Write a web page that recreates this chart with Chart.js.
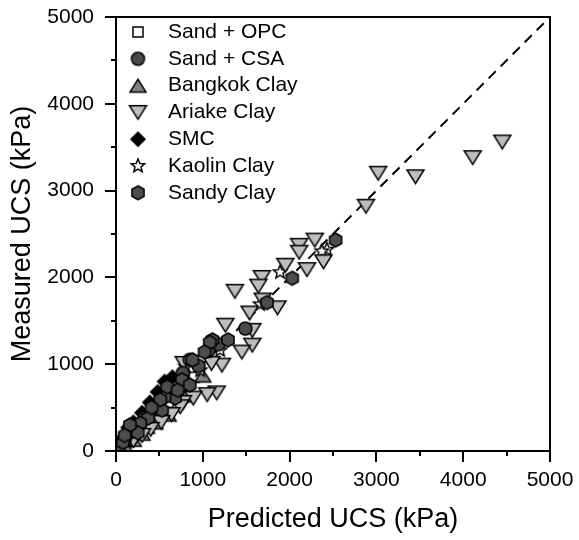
<!DOCTYPE html>
<html>
<head>
<meta charset="utf-8">
<script src="https://cdn.jsdelivr.net/npm/chart.js@4"></script>
<style>
  html, body { margin: 0; padding: 0; background: #fff; }
  #wrap { width: 579px; height: 540px; }
</style>
</head>
<body>
<div id="wrap"><canvas id="ucsChart" width="579" height="540"></canvas></div>
<script>
// Measured vs predicted UCS (kPa)
const sandOPC = [[50, 40], [120, 100], [250, 210], [400, 350], [600, 560], [900, 850]];
const sandCSA = [[1490, 1410], [850, 1050], [950, 980], [1180, 1230], [640, 690], [470, 520],
  [330, 380], [200, 250], [100, 120], [30, 40], [1060, 1150], [770, 900]];
const bangkokClay = [[600, 420], [450, 330], [300, 200], [200, 130], [100, 60], [800, 640],
  [350, 280], [1000, 870]];
const ariakeClay = [[4450, 3560], [4110, 3380], [3450, 3160], [3020, 3200], [2880, 2820],
  [2290, 2430], [2110, 2370], [2110, 2290], [2390, 2180], [2200, 2090], [1950, 2140],
  [1680, 2000], [1640, 1900], [1370, 1840], [1690, 1740], [1860, 1650], [1540, 1590],
  [1260, 1450], [1570, 1390], [1570, 1220], [1450, 1140], [1220, 990], [1100, 1010],
  [1160, 670], [1050, 650], [890, 610], [770, 560], [740, 510], [640, 420], [780, 1010],
  [520, 330], [400, 250], [300, 180], [200, 120]];
const smc = [[560, 800], [390, 560], [200, 330], [140, 270], [480, 680], [300, 440],
  [80, 150], [650, 850]];
const kaolinClay = [[2430, 2320], [2370, 2300], [1890, 2060], [1200, 1160], [970, 930],
  [800, 970], [1660, 1690], [700, 680], [500, 460], [300, 260], [150, 120]];
const sandyClay = [[2530, 2430], [2030, 1990], [1740, 1710], [1110, 1280], [1290, 1280],
  [1080, 1250], [1020, 1140], [880, 1050], [760, 820], [850, 760], [680, 610], [560, 620],
  [430, 510], [530, 470], [370, 380], [280, 320], [160, 210], [80, 100], [250, 210],
  [590, 740], [710, 700], [510, 590], [410, 500], [160, 300], [100, 180]];
const oneToOne = [[0, 0], [5000, 5000]];
const axisTicks = [0, 1000, 2000, 3000, 4000, 5000];

const FONT = "'Liberation Sans', Arial, sans-serif";

// marker images (Chart.js has no hexagon / down triangle / outlined star)
function marker(type, fill, size) {
  const pad = 2;
  const c = document.createElement("canvas");
  c.width = c.height = size + pad * 2;
  const g = c.getContext("2d");
  const cx = c.width / 2, cy = c.height / 2, r = size / 2;
  g.beginPath();
  if (type === "square") {
    g.rect(cx - r, cy - r, size, size);
  } else if (type === "circle") {
    g.arc(cx, cy, r, 0, Math.PI * 2);
  } else if (type === "up" || type === "down") {
    const h = size * 0.8, s = type === "up" ? 1 : -1;
    g.moveTo(cx, cy - s * h / 2);
    g.lineTo(cx + r, cy + s * h / 2);
    g.lineTo(cx - r, cy + s * h / 2);
  } else if (type === "diamond") {
    g.moveTo(cx, cy - r); g.lineTo(cx + r, cy); g.lineTo(cx, cy + r); g.lineTo(cx - r, cy);
  } else if (type === "star") {
    for (let i = 0; i < 10; i++) {
      const a = -Math.PI / 2 + i * Math.PI / 5;
      const rr = i % 2 ? r * 0.45 : r;
      g.lineTo(cx + rr * Math.cos(a), cy + rr * Math.sin(a));
    }
  } else if (type === "hex") {
    for (let i = 0; i < 6; i++) {
      const a = -Math.PI / 2 + i * Math.PI / 3;
      g.lineTo(cx + r * Math.cos(a), cy + r * Math.sin(a));
    }
  }
  g.closePath();
  g.fillStyle = fill;
  g.fill();
  g.lineWidth = 1.5;
  g.strokeStyle = "#000";
  g.stroke();
  return c;
}

const series = [
  { label: "Sand + OPC", data: sandOPC, img: marker("square", "#ffffff", 10), order: 6 },
  { label: "Sand + CSA", data: sandCSA, img: marker("circle", "#4a4a4a", 13), order: 1 },
  { label: "Bangkok Clay", data: bangkokClay, img: marker("up", "#808080", 16), order: 5 },
  { label: "Ariake Clay", data: ariakeClay, img: marker("down", "#bdbdbd", 17), order: 2 },
  { label: "SMC", data: smc, img: marker("diamond", "#000000", 14), order: 3 },
  { label: "Kaolin Clay", data: kaolinClay, img: marker("star", "#ffffff", 14), order: 4 },
  { label: "Sandy Clay", data: sandyClay, img: marker("hex", "#4d4d4d", 14), order: 0 },
];

const datasets = series.map((s) => ({
  type: "scatter",
  label: s.label,
  data: s.data.map(([x, y]) => ({ x, y })),
  pointStyle: s.img,
  pointRadius: 7,
  order: s.order,
}));
datasets.push({
  type: "line",
  label: "1:1",
  data: oneToOne.map(([x, y]) => ({ x, y })),
  borderColor: "#000",
  borderWidth: 2,
  borderDash: [10, 7],
  pointRadius: 0,
  order: 10,
});

// frame, tick marks and the in-plot legend
const framePlugin = {
  id: "frame",
  afterDatasetsDraw(chart) {
    const { ctx, chartArea: a, scales } = chart;
    ctx.save();
    ctx.strokeStyle = "#000";
    ctx.lineWidth = 2;
    ctx.strokeRect(a.left, a.top, a.right - a.left, a.bottom - a.top);
    ctx.beginPath();
    for (let v = 0; v <= 5000; v += 500) {
      const len = v % 1000 === 0 ? 11 : 5;
      const px = Math.round(scales.x.getPixelForValue(v));
      ctx.moveTo(px, a.bottom);
      ctx.lineTo(px, a.bottom + len);
      const py = Math.round(scales.y.getPixelForValue(v));
      ctx.moveTo(a.left, py);
      ctx.lineTo(a.left - len, py);
    }
    ctx.stroke();
    ctx.restore();
  },
  afterDraw(chart) {
    const { ctx, chartArea: a } = chart;
    ctx.save();
    ctx.font = "21px " + FONT;
    ctx.fillStyle = "#000";
    ctx.textBaseline = "middle";
    series.forEach((s, i) => {
      const y = a.top + 15 + i * 26.8;
      ctx.drawImage(s.img, a.left + 22 - s.img.width / 2, y - s.img.height / 2);
      ctx.fillText(s.label, a.left + 52, y);
    });
    ctx.restore();
  },
};

function noPad(s) {
  s.paddingTop = s.paddingBottom = s.paddingLeft = s.paddingRight = 0;
}

new Chart(document.getElementById("ucsChart").getContext("2d"), {
  data: { datasets },
  plugins: [framePlugin],
  options: {
    responsive: false,
    animation: false,
    events: [],
    layout: { padding: { top: 17, right: 29, left: 0, bottom: 0 } },
    plugins: { legend: { display: false }, tooltip: { enabled: false } },
    scales: {
      x: {
        type: "linear",
        min: 0,
        max: 5000,
        afterFit: (s) => { s.height = 89; noPad(s); },
        afterBuildTicks: (s) => { s.ticks = axisTicks.map((v) => ({ value: v })); },
        grid: { display: false, drawTicks: false },
        border: { display: false },
        ticks: {
          padding: 17, color: "#000", font: { family: FONT, size: 21 }, maxRotation: 0,
          callback: (v) => String(v),
        },
        title: {
          display: true,
          text: "Predicted UCS (kPa)",
          color: "#000",
          font: { family: FONT, size: 27 },
          padding: { top: 0, bottom: 4 },
        },
      },
      y: {
        type: "linear",
        min: 0,
        max: 5000,
        afterFit: (s) => { s.width = 116; noPad(s); },
        afterBuildTicks: (s) => { s.ticks = axisTicks.map((v) => ({ value: v })); },
        grid: { display: false, drawTicks: false },
        border: { display: false },
        ticks: {
          padding: 22, color: "#000", font: { family: FONT, size: 21 },
          callback: (v) => String(v),
        },
        title: {
          display: true,
          text: "Measured UCS (kPa)",
          color: "#000",
          font: { family: FONT, size: 27 },
          padding: { top: 6, bottom: 0 },
        },
      },
    },
  },
});
</script>
</body>
</html>
